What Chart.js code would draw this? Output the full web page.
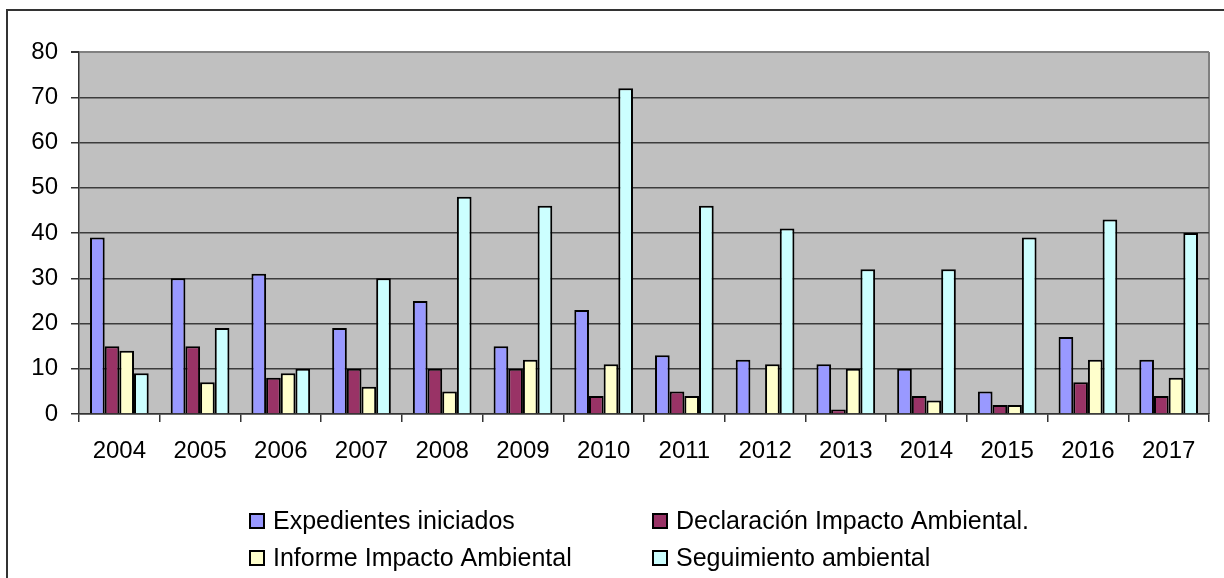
<!DOCTYPE html>
<html>
<head>
<meta charset="utf-8">
<script src="https://cdn.jsdelivr.net/npm/chart.js@4/dist/chart.umd.min.js"></script>
<style>
  html, body { margin: 0; padding: 0; background: #fff; }
  #wrap { position: relative; width: 1224px; height: 578px; }
</style>
</head>
<body>
<div id="wrap"><canvas id="expChart"></canvas></div>
<script>
const years = ["2004", "2005", "2006", "2007", "2008", "2009", "2010",
               "2011", "2012", "2013", "2014", "2015", "2016", "2017"];
const expedientes = [39, 30, 31, 19, 25, 15, 23, 13, 12, 11, 10, 5, 17, 12];
const declaracion = [15, 15, 8, 10, 10, 10, 4, 5, 0, 1, 4, 2, 7, 4];
const informe = [14, 7, 9, 6, 5, 12, 11, 4, 11, 10, 3, 2, 12, 8];
const seguimiento = [9, 19, 10, 30, 48, 46, 72, 46, 41, 32, 32, 39, 43, 40];
const yTicks = [0, 10, 20, 30, 40, 50, 60, 70, 80];

const fontFamily = "'Liberation Sans', Arial, sans-serif";

// grey plot area + outer frame of the picture
const backgroundPlugin = {
  id: "plotBackground",
  beforeDraw(chart) {
    const ctx = chart.ctx;
    const a = chart.chartArea;
    ctx.save();
    ctx.fillStyle = "#C0C0C0";
    ctx.fillRect(a.left, a.top, a.right - a.left, a.bottom - a.top);
    ctx.strokeStyle = "#808080";
    ctx.lineWidth = 2;
    ctx.beginPath();
    ctx.moveTo(a.right, a.top);
    ctx.lineTo(a.right, a.bottom);
    ctx.stroke();
    // frame
    ctx.strokeStyle = "#333";
    ctx.lineWidth = 2;
    ctx.beginPath();
    ctx.moveTo(7, 600);
    ctx.lineTo(7, 10);
    ctx.lineTo(1230, 10);
    ctx.stroke();
    ctx.restore();
  },
};

// two column legend like the Excel one
const gridLegendPlugin = {
  id: "gridLegend",
  afterDraw(chart) {
    const ctx = chart.ctx;
    const colX = [250, 653];
    const rowY = [521, 558];
    ctx.save();
    ctx.font = "25px " + fontFamily;
    ctx.textBaseline = "middle";
    chart.data.datasets.forEach(function (ds, i) {
      const x = colX[i % 2];
      const y = rowY[Math.floor(i / 2)];
      ctx.fillStyle = ds.backgroundColor;
      ctx.fillRect(x, y - 7, 14, 14);
      ctx.strokeStyle = "#000";
      ctx.lineWidth = 2;
      ctx.strokeRect(x, y - 7, 14, 14);
      ctx.fillStyle = "#000";
      ctx.fillText(ds.label, x + 23, y + 1);
    });
    ctx.restore();
  },
};

const expChart = new Chart(document.getElementById("expChart"), {
  type: "bar",
  data: {
    labels: years,
    datasets: [
      { label: "Expedientes iniciados", data: expedientes, backgroundColor: "#9999FF" },
      { label: "Declaración Impacto Ambiental.", data: declaracion, backgroundColor: "#993366" },
      { label: "Informe Impacto Ambiental", data: informe, backgroundColor: "#FFFFCC" },
      { label: "Seguimiento ambiental", data: seguimiento, backgroundColor: "#CCFFFF" },
    ],
  },
  options: {
    responsive: true,
    maintainAspectRatio: false,
    animation: false,
    layout: { padding: { left: 0, top: 52, right: 15, bottom: 0 } },
    datasets: {
      bar: {
        borderColor: "#000",
        borderWidth: 2,
        borderSkipped: "bottom",
        barPercentage: 1,
        categoryPercentage: 0.727,
      },
    },
    plugins: {
      legend: { display: false },
      tooltip: { enabled: false },
    },
    scales: {
      x: {
        afterFit: (scale) => { scale.height = 164; },
        grid: {
          drawOnChartArea: false,
          drawTicks: true,
          tickLength: 8,
          color: "#333",
          lineWidth: 1.5,
        },
        border: { color: "#333", width: 1.5 },
        ticks: {
          color: "#000",
          padding: 15,
          maxRotation: 0,
          font: { family: fontFamily, size: 24 },
        },
      },
      y: {
        min: 0,
        max: 80,
        afterFit: (scale) => { scale.width = 79; },
        afterBuildTicks: (scale) => {
          scale.ticks = yTicks.map((v) => ({ value: v }));
        },
        grid: {
          color: (c) => (c.tick && c.tick.value === 80 ? "#808080" : "#3c3c3c"),
          lineWidth: (c) => (c.tick && c.tick.value === 80 ? 2 : 1.5),
          tickColor: "#333",
          tickLength: 8,
        },
        border: { color: "#333", width: 1.5 },
        ticks: {
          color: "#000",
          padding: 13,
          font: { family: fontFamily, size: 24 },
        },
      },
    },
  },
  plugins: [backgroundPlugin, gridLegendPlugin],
});
</script>
</body>
</html>
